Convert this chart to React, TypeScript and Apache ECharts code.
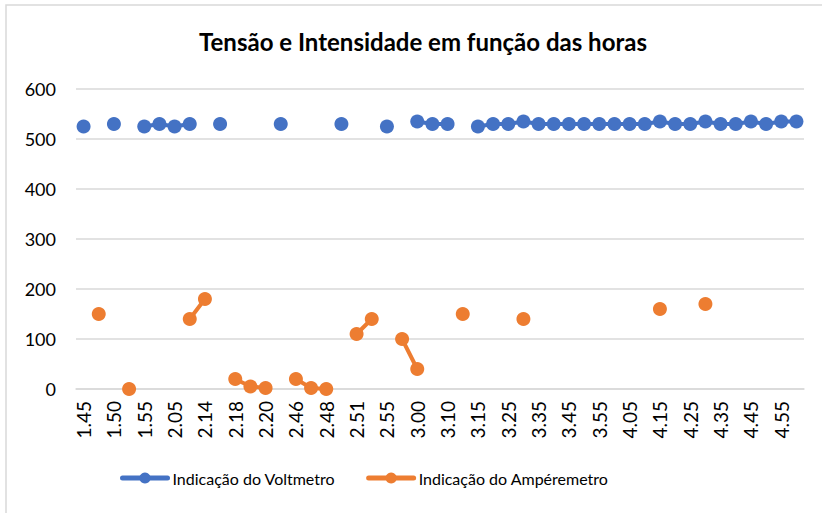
import React, { useEffect, useRef } from "react";
import * as echarts from "echarts";

const categories = [
  "1.45", "1.47", "1.50", "1.52", "1.55", "2.00", "2.05", "2.10", "2.14", "2.16",
  "2.18", "2.19", "2.20", "2.30", "2.46", "2.47", "2.48", "2.50", "2.51", "2.53",
  "2.55", "2.58", "3.00", "3.05", "3.10", "3.12", "3.15", "3.20", "3.25", "3.30",
  "3.35", "3.40", "3.45", "3.50", "3.55", "4.00", "4.05", "4.10", "4.15", "4.20",
  "4.25", "4.30", "4.35", "4.40", "4.45", "4.50", "4.55", "5.00",
];

const voltmetro: (number | null)[] = [
  525, null, 530, null, 525, 530, 525, 530, null, 530,
  null, null, null, 530, null, null, null, 530, null, null,
  525, null, 535, 530, 530, null, 525, 530, 530, 535,
  530, 530, 530, 530, 530, 530, 530, 530, 535, 530,
  530, 535, 530, 530, 535, 530, 535, 535,
];

const amperemetro: (number | null)[] = [
  null, 150, null, 0, null, null, null, 140, 180, null,
  20, 5, 2, null, 20, 2, 0, null, 110, 140,
  null, 100, 40, null, null, 150, null, null, null, 140,
  null, null, null, null, null, null, null, null, 160, null,
  null, 170, null, null, null, null, null, null,
];

const yTicks = { min: 0, max: 600, interval: 100 };

const FONT = "Lato";

export default function App() {
  const ref = useRef<HTMLDivElement>(null);
  useEffect(() => {
    if (!ref.current) return;
    const chart = echarts.init(ref.current, undefined, { renderer: "svg" });
    chart.setOption({
      animation: false,
      backgroundColor: "#ffffff",
      textStyle: { fontFamily: FONT },
      title: {
        text: "Tensão e Intensidade em função das horas",
        left: 418,
        textAlign: "center",
        top: 24,
        textStyle: { fontFamily: FONT, fontWeight: "bold", fontSize: 24, color: "#000000" },
      },
      graphic: [
        {
          type: "rect",
          shape: { x: 6, y: 5, width: 830, height: 530 },
          style: { fill: "none", stroke: "#d9d9d9", lineWidth: 1.5 },
          silent: true,
        },
      ],
      legend: {
        left: 115,
        top: 465,
        itemWidth: 45,
        itemHeight: 14,
        itemGap: 31,
        lineStyle: { width: 5, cap: "round" },
        textStyle: { fontFamily: FONT, fontSize: 16, color: "#000000" },
        data: ["Indicação do Voltmetro", "Indicação do Ampéremetro"],
      },
      grid: { left: 76, right: 18, top: 89, bottom: 124 },
      xAxis: {
        type: "category",
        data: categories,
        boundaryGap: true,
        axisLine: { lineStyle: { color: "#d9d9d9", width: 1.5 } },
        axisTick: { show: false },
        axisLabel: {
          interval: 1,
          rotate: 90,
          margin: 12,
          fontFamily: FONT,
          fontSize: 19,
          color: "#000000",
        },
      },
      yAxis: {
        type: "value",
        min: yTicks.min,
        max: yTicks.max,
        interval: yTicks.interval,
        axisLine: { show: false },
        axisTick: { show: false },
        splitLine: { lineStyle: { color: "#d9d9d9", width: 1.5 } },
        axisLabel: { margin: 20, fontFamily: FONT, fontSize: 18, color: "#000000" },
      },
      series: [
        {
          name: "Indicação do Voltmetro",
          type: "line",
          data: voltmetro,
          connectNulls: false,
          symbol: "circle",
          symbolSize: 14,
          showAllSymbol: true,
          color: "#4472C4",
          lineStyle: { width: 4, color: "#4472C4", cap: "round" },
          itemStyle: { color: "#4472C4" },
        },
        {
          name: "Indicação do Ampéremetro",
          type: "line",
          data: amperemetro,
          connectNulls: false,
          symbol: "circle",
          symbolSize: 14,
          showAllSymbol: true,
          color: "#ED7D31",
          lineStyle: { width: 4, color: "#ED7D31", cap: "round" },
          itemStyle: { color: "#ED7D31" },
        },
      ],
    });
    return () => chart.dispose();
  }, []);
  return (
    <div
      ref={ref}
      style={{ position: "fixed", left: 0, top: 0, width: 822, height: 513 }}
    />
  );
}
